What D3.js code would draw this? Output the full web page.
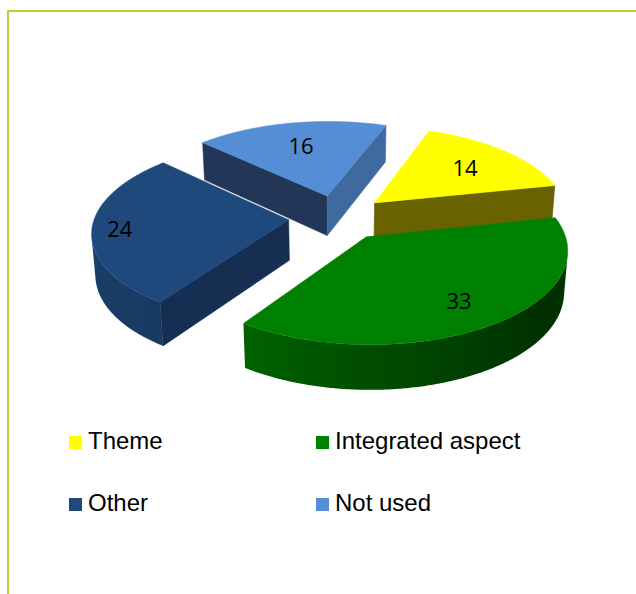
<!DOCTYPE html>
<html>
<head>
<meta charset="utf-8">
<script src="https://cdn.jsdelivr.net/npm/d3@7"></script>
<style>
  html, body { margin: 0; padding: 0; background: #ffffff; }
  svg { display: block; }
</style>
</head>
<body>
<svg id="chart" width="636" height="594"></svg>
<script>
// ---- data ----
const categories = ["Theme", "Integrated aspect", "Other", "Not used"];
const values = [14, 33, 24, 16];

// ---- per-slice styling ----
const topColors = ["#FFFF00", "#008000", "#1F497D", "#558ED5"];
const startFaceColors = ["#6E6800", "#004A00", "#152E52", "#223658"];
const endFaceColors = ["#686200", "#005200", "#17345C", "#3E6AA0"];
const labelRadius = [0.68, 0.75, 0.86, 0.68];

// ---- 3D view settings (unit pie radius) ----
const view = {
  cx: 338, cy: 217.5,      // screen position of the pie centre
  f: 194,                   // pixels per unit radius
  tilt: 27.3 * Math.PI / 180,
  dist: 7.1,                // perspective camera distance
  height: 0.238,            // slice thickness
  explode: 0.255,           // radial offset of every slice
  firstAngle: 20 * Math.PI / 180
};

const cosT = Math.cos(view.tilt), sinT = Math.sin(view.tilt);
const camera = [0, view.dist * sinT, -view.dist * cosT];

function project(p) {
  const [X, Y, Z] = p;
  const yv = Y * cosT + Z * sinT;
  const dv = Z * cosT - Y * sinT;
  const k = view.dist / (view.dist + dv);
  return [view.cx + view.f * k * X, view.cy - view.f * k * yv];
}

function facesCamera(normal, point) {
  const v = [camera[0] - point[0], camera[1] - point[1], camera[2] - point[2]];
  return normal[0] * v[0] + normal[1] * v[1] + normal[2] * v[2] > 0;
}

// brightness of the curved outer wall by direction (degrees)
const wallShade = d3.scaleLinear()
  .domain([80, 125, 180, 220, 270, 320])
  .range([0.47, 0.36, 0.6, 0.8, 0.86, 0.8])
  .clamp(true);

function shade(color, k) {
  const c = d3.rgb(color);
  return d3.rgb(c.r * k, c.g * k, c.b * k).formatHex();
}

const svg = d3.select("#chart");
const defs = svg.append("defs");
const line = d3.line();

// frame
svg.append("path")
  .attr("d", "M8,594 V11 H636")
  .attr("fill", "none")
  .attr("stroke", "#BFCE36")
  .attr("stroke-width", 2);

const data = categories.map((name, i) => ({ name, value: values[i], i }));
const pie = d3.pie()
  .sort(null)
  .value(d => d.value)
  .startAngle(view.firstAngle)
  .endAngle(view.firstAngle + 2 * Math.PI);
const arcs = pie(data);

const H = view.height, E = view.explode;
const step = Math.PI / 360;

arcs.forEach(a => {
  const m = (a.startAngle + a.endAngle) / 2;
  a.ox = E * Math.sin(m);
  a.oz = E * Math.cos(m);
  a.mid = m;
  a.depth = a.oz + 0.6 * Math.cos(m);
});

// far slices first
const ordered = arcs.slice().sort((p, q) => q.depth - p.depth);

const sliceLayer = svg.append("g");

ordered.forEach(a => {
  const i = a.data.i;
  const g = sliceLayer.append("g").attr("class", "slice");
  const rim = (t, Y) => [a.ox + Math.sin(t), Y, a.oz + Math.cos(t)];
  const apex = Y => [a.ox, Y, a.oz];

  const n = Math.max(2, Math.ceil((a.endAngle - a.startAngle) / step));
  const angles = d3.range(n + 1).map(j => a.startAngle + (a.endAngle - a.startAngle) * j / n);

  // radial faces
  const radial = [
    { t: a.startAngle, normalAngle: a.startAngle - Math.PI / 2, color: startFaceColors[i] },
    { t: a.endAngle, normalAngle: a.endAngle + Math.PI / 2, color: endFaceColors[i] }
  ];
  radial.forEach(r => {
    const nrm = [Math.sin(r.normalAngle), 0, Math.cos(r.normalAngle)];
    const c = rim(r.t, -H / 2).map((v, k) => (v + apex(-H / 2)[k]) / 2);
    if (!facesCamera(nrm, c)) return;
    const pts = [apex(0), rim(r.t, 0), rim(r.t, -H), apex(-H)].map(project);
    g.append("path")
      .attr("d", line(pts) + "Z")
      .attr("fill", r.color)
      .attr("stroke", r.color)
      .attr("stroke-width", 0.6)
      .attr("stroke-linejoin", "round");
  });

  // curved outer wall: visible angles, drawn as one shape with a shaded gradient
  const visible = angles.filter(t => facesCamera([Math.sin(t), 0, Math.cos(t)], rim(t, -H / 2)));
  if (visible.length > 1) {
    const upper = visible.map(t => project(rim(t, 0)));
    const lower = visible.map(t => project(rim(t, -H))).reverse();
    const stops = visible.map(t => {
      const deg = ((t * 180 / Math.PI) % 360 + 360) % 360;
      return { x: project(rim(t, -H / 2))[0], color: shade(topColors[i], wallShade(deg)) };
    }).sort((p, q) => p.x - q.x);
    const x0 = stops[0].x, x1 = stops[stops.length - 1].x;
    const gid = "wall-" + i;
    const grad = defs.append("linearGradient")
      .attr("id", gid)
      .attr("gradientUnits", "userSpaceOnUse")
      .attr("x1", x0).attr("x2", x1).attr("y1", 0).attr("y2", 0);
    grad.selectAll("stop")
      .data(stops)
      .join("stop")
      .attr("offset", s => (x1 > x0 ? (s.x - x0) / (x1 - x0) : 0))
      .attr("stop-color", s => s.color);
    g.append("path")
      .attr("d", line(upper.concat(lower)) + "Z")
      .attr("fill", `url(#${gid})`);
  }

  // top face
  const topPts = [apex(0)].concat(angles.map(t => rim(t, 0))).map(project);
  g.append("path")
    .attr("d", line(topPts) + "Z")
    .attr("fill", topColors[i])
    .attr("stroke", topColors[i])
    .attr("stroke-width", 0.5)
    .attr("stroke-linejoin", "round");
});

// value labels on the top faces
svg.append("g")
  .selectAll("text")
  .data(arcs)
  .join("text")
  .attr("transform", a => {
    const r = labelRadius[a.data.i];
    const p = project([a.ox + r * Math.sin(a.mid), 0, a.oz + r * Math.cos(a.mid)]);
    return `translate(${p[0]},${p[1]})`;
  })
  .attr("text-anchor", "middle")
  .attr("dominant-baseline", "central")
  .attr("font-family", "'Open Sans', 'Noto Sans', sans-serif")
  .attr("font-size", 22)
  .attr("fill", "#000")
  .text(a => a.data.value);

// legend (two columns)
const legendX = d3.scaleOrdinal().domain([0, 1]).range([69, 316]);
const legendY = d3.scaleOrdinal().domain([0, 1]).range([436, 498]);

const legend = svg.append("g")
  .selectAll("g")
  .data(data)
  .join("g")
  .attr("transform", d => `translate(${legendX(d.i % 2)},${legendY(Math.floor(d.i / 2))})`);

legend.append("rect")
  .attr("width", 13)
  .attr("height", 13)
  .attr("fill", d => topColors[d.i]);

legend.append("text")
  .attr("x", 19)
  .attr("y", 13.3)
  .attr("font-family", "'Liberation Sans', Arial, sans-serif")
  .attr("font-size", 24)
  .attr("fill", "#000")
  .text(d => d.name);
</script>
</body>
</html>
